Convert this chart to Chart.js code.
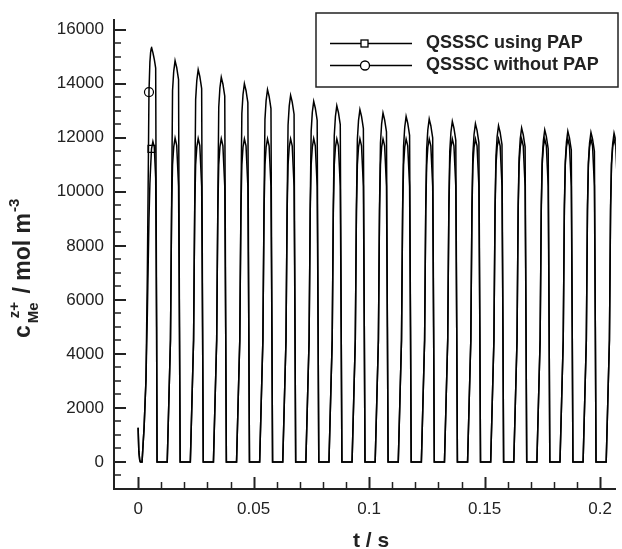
<!DOCTYPE html>
<html>
<head>
<meta charset="utf-8">
<script src="https://cdn.jsdelivr.net/npm/chart.js@4/dist/chart.umd.min.js"></script>
<style>
  html, body { margin: 0; padding: 0; background: #fff; }
  canvas { display: block; }
</style>
</head>
<body>
<canvas id="conc" width="622" height="549"></canvas>
<script>
// concentration pulses, QSSSC with / without PAP

const FONT = '"Liberation Sans", Arial, Helvetica, sans-serif';
const INK = '#222';

// time points (s), one row per pulse
const tSec = [
  0, 0.0003, 0.0007, 0.0010, 0.0017, 0.0026, 0.0034, 0.0040, 0.0044, 0.0047, 0.0051, 0.0054, 0.0058, 0.0064, 0.0070, 0.0076, 0.0080, 0.0082,
  0.0126, 0.0140, 0.0145, 0.0149, 0.0154, 0.0160, 0.0167, 0.0175, 0.0179, 0.0182,
  0.0226, 0.0240, 0.0245, 0.0249, 0.0254, 0.0260, 0.0267, 0.0275, 0.0279, 0.0282,
  0.0326, 0.0340, 0.0345, 0.0349, 0.0354, 0.0360, 0.0367, 0.0375, 0.0379, 0.0382,
  0.0426, 0.0440, 0.0445, 0.0449, 0.0454, 0.0460, 0.0467, 0.0475, 0.0479, 0.0482,
  0.0526, 0.0540, 0.0545, 0.0549, 0.0554, 0.0560, 0.0567, 0.0575, 0.0579, 0.0582,
  0.0626, 0.0640, 0.0645, 0.0649, 0.0654, 0.0660, 0.0667, 0.0675, 0.0679, 0.0682,
  0.0726, 0.0740, 0.0745, 0.0749, 0.0754, 0.0760, 0.0767, 0.0775, 0.0779, 0.0782,
  0.0826, 0.0840, 0.0845, 0.0849, 0.0854, 0.0860, 0.0867, 0.0875, 0.0879, 0.0882,
  0.0926, 0.0940, 0.0945, 0.0949, 0.0954, 0.0960, 0.0967, 0.0975, 0.0979, 0.0982,
  0.1026, 0.1040, 0.1045, 0.1049, 0.1054, 0.1060, 0.1067, 0.1075, 0.1079, 0.1082,
  0.1126, 0.1140, 0.1145, 0.1149, 0.1154, 0.1160, 0.1167, 0.1175, 0.1179, 0.1182,
  0.1226, 0.1240, 0.1245, 0.1249, 0.1254, 0.1260, 0.1267, 0.1275, 0.1279, 0.1282,
  0.1326, 0.1340, 0.1345, 0.1349, 0.1354, 0.1360, 0.1367, 0.1375, 0.1379, 0.1382,
  0.1426, 0.1440, 0.1445, 0.1449, 0.1454, 0.1460, 0.1467, 0.1475, 0.1479, 0.1482,
  0.1526, 0.1540, 0.1545, 0.1549, 0.1554, 0.1560, 0.1567, 0.1575, 0.1579, 0.1582,
  0.1626, 0.1640, 0.1645, 0.1649, 0.1654, 0.1660, 0.1667, 0.1675, 0.1679, 0.1682,
  0.1726, 0.1740, 0.1745, 0.1749, 0.1754, 0.1760, 0.1767, 0.1775, 0.1779, 0.1782,
  0.1826, 0.1840, 0.1845, 0.1849, 0.1854, 0.1860, 0.1867, 0.1875, 0.1879, 0.1882,
  0.1926, 0.1940, 0.1945, 0.1949, 0.1954, 0.1960, 0.1967, 0.1975, 0.1979, 0.1982,
  0.2026, 0.2040, 0.2045, 0.2049, 0.2054, 0.2060, 0.2067, 0.2075, 0.2079, 0.2082
];

// c (mol m^-3), QSSSC using PAP
const cWithPap = [
  1270, 400, 60, 0, 0, 1300, 3040, 5500, 7500, 9000, 10300, 10900, 11590, 11860, 11650, 10500, 5000, 0,
  0, 4500, 9300, 11000, 11650, 11990, 11720, 10200, 5000, 0,
  0, 4500, 9300, 11000, 11650, 11975, 11710, 10200, 5000, 0,
  0, 4500, 9300, 11000, 11650, 11965, 11700, 10200, 5000, 0,
  0, 4500, 9300, 11000, 11650, 11960, 11700, 10200, 5000, 0,
  0, 4500, 9300, 11000, 11650, 11960, 11700, 10200, 5000, 0,
  0, 4500, 9300, 11000, 11650, 11960, 11700, 10200, 5000, 0,
  0, 4500, 9300, 11000, 11650, 11970, 11700, 10200, 5000, 0,
  0, 4500, 9300, 11000, 11650, 11960, 11700, 10200, 5000, 0,
  0, 4500, 9300, 11000, 11650, 11960, 11700, 10200, 5000, 0,
  0, 4500, 9300, 11000, 11650, 11955, 11700, 10200, 5000, 0,
  0, 4500, 9300, 11000, 11650, 11955, 11700, 10200, 5000, 0,
  0, 4500, 9300, 11000, 11650, 11955, 11700, 10200, 5000, 0,
  0, 4500, 9300, 11000, 11650, 11950, 11700, 10200, 5000, 0,
  0, 4500, 9300, 11000, 11650, 11950, 11700, 10200, 5000, 0,
  0, 4500, 9300, 11000, 11650, 11950, 11700, 10200, 5000, 0,
  0, 4500, 9300, 11000, 11650, 11950, 11700, 10200, 5000, 0,
  0, 4500, 9300, 11000, 11650, 11950, 11700, 10200, 5000, 0,
  0, 4500, 9300, 11000, 11650, 11950, 11700, 10200, 5000, 0,
  0, 4500, 9300, 11000, 11650, 11950, 11700, 10200, 5000, 0,
  0, 4500, 9300, 11000, 11650, 11950, 11700, 10200, 5000, 0
];

// c (mol m^-3), QSSSC without PAP
const cNoPap = [
  1270, 400, 60, 0, 0, 1300, 3040, 7000, 10800, 13690, 14800, 15150, 15350, 15150, 14900, 14580, 5000, 0,
  0, 4500, 9500, 13750, 14450, 14850, 14600, 14150, 5000, 0,
  0, 4500, 9500, 13420, 14120, 14520, 14270, 13820, 5000, 0,
  0, 4500, 9500, 13140, 13840, 14240, 13990, 13540, 5000, 0,
  0, 4500, 9500, 12900, 13600, 14000, 13750, 13300, 5000, 0,
  0, 4500, 9500, 12680, 13380, 13780, 13530, 13080, 5000, 0,
  0, 4500, 9500, 12470, 13170, 13570, 13320, 12870, 5000, 0,
  0, 4500, 9500, 12245, 12945, 13345, 13095, 12645, 5000, 0,
  0, 4500, 9500, 12085, 12785, 13185, 12935, 12485, 5000, 0,
  0, 4500, 9500, 11940, 12640, 13040, 12790, 12340, 5000, 0,
  0, 4500, 9500, 11815, 12515, 12915, 12665, 12215, 5000, 0,
  0, 4500, 9500, 11690, 12390, 12790, 12540, 12090, 5000, 0,
  0, 4500, 9500, 11595, 12295, 12695, 12445, 11995, 5000, 0,
  0, 4500, 9500, 11505, 12205, 12605, 12355, 11905, 5000, 0,
  0, 4500, 9500, 11420, 12120, 12520, 12270, 11820, 5000, 0,
  0, 4500, 9500, 11345, 12045, 12445, 12195, 11745, 5000, 0,
  0, 4500, 9500, 11260, 11960, 12360, 12110, 11660, 5000, 0,
  0, 4500, 9500, 11190, 11890, 12290, 12040, 11590, 5000, 0,
  0, 4500, 9500, 11140, 11840, 12240, 11990, 11540, 5000, 0,
  0, 4500, 9500, 11100, 11800, 12200, 11950, 11500, 5000, 0,
  0, 4500, 9500, 11070, 11770, 12170, 11920, 11470, 5000, 0
];

const seriesNames = ['QSSSC using PAP', 'QSSSC without PAP'];
const markerTimes = [0.0058, 0.0047];   // where the symbol sits on each curve

const xMajor = [0, 0.05, 0.1, 0.15, 0.2];
const xTickLabels = ['0', '0.05', '0.1', '0.15', '0.2'];
const xMinor = [0.01, 0.02, 0.03, 0.04, 0.06, 0.07, 0.08, 0.09, 0.11, 0.12, 0.13, 0.14, 0.16, 0.17, 0.18, 0.19];
const yMajor = [0, 2000, 4000, 6000, 8000, 10000, 12000, 14000, 16000];
const yMinor = [-500, 500, 1000, 1500, 2500, 3000, 3500, 4500, 5000, 5500, 6500, 7000, 7500, 8500, 9000, 9500,
  10500, 11000, 11500, 12500, 13000, 13500, 14500, 15000, 15500];

function pointsOf(values) {
  return tSec.map((t, i) => ({ x: t, y: values[i] }));
}

function markerRadius(which, r) {
  const idx = tSec.indexOf(markerTimes[which]);
  return c => (c.dataIndex === idx ? r : 0);
}

// ticks pointing into the plot
const innerTicks = {
  id: 'innerTicks',
  afterDraw(chart) {
    const { ctx, chartArea: a, scales: { x, y } } = chart;
    ctx.save();
    ctx.strokeStyle = INK;
    const draw = (vals, len, w, horiz) => {
      ctx.lineWidth = w;
      ctx.beginPath();
      vals.forEach(v => {
        if (horiz) {
          const p = Math.round(x.getPixelForValue(v)) + 0.5;
          ctx.moveTo(p, a.bottom); ctx.lineTo(p, a.bottom - len);
        } else {
          const p = Math.round(y.getPixelForValue(v));
          ctx.moveTo(a.left, p); ctx.lineTo(a.left + len, p);
        }
      });
      ctx.stroke();
    };
    draw(xMajor, 12, 2, true);
    draw(xMinor, 7, 1.5, true);
    draw(yMajor, 12, 2, false);
    draw(yMinor, 7, 1.5, false);
    ctx.restore();
  }
};

// axis titles: c_{Me^{z+}} / mol m^{-3} (rotated) and t / s
const axisTitles = {
  id: 'axisTitles',
  afterDraw(chart) {
    const ctx = chart.ctx;
    const big = 'bold 23px ' + FONT, small = 'bold 15px ' + FONT;
    ctx.save();
    ctx.fillStyle = INK;
    ctx.textBaseline = 'alphabetic';
    ctx.font = 'bold 21px ' + FONT;
    ctx.textAlign = 'center';
    ctx.fillText('t / s', 371, 547);
    ctx.textAlign = 'left';
    ctx.translate(30, 338);
    ctx.rotate(-Math.PI / 2);
    let x = 0;
    ctx.font = big; ctx.fillText('c', x, 0); x += ctx.measureText('c').width + 2;
    ctx.font = small;
    ctx.fillText('Me', x, 8);
    ctx.fillText('z+', x + 5, -11);
    x += Math.max(ctx.measureText('Me').width, ctx.measureText('z+').width + 5) + 2;
    ctx.font = big; ctx.fillText(' / mol m', x, 0); x += ctx.measureText(' / mol m').width + 1;
    ctx.font = small; ctx.fillText('-3', x, -11);
    ctx.restore();
  }
};

// framed legend, top right
const boxLegend = {
  id: 'boxLegend',
  afterDraw(chart) {
    const ctx = chart.ctx;
    ctx.save();
    ctx.fillStyle = '#fff';
    ctx.fillRect(316, 13, 302, 74);
    ctx.strokeStyle = INK;
    ctx.lineWidth = 1.5;
    ctx.strokeRect(316, 13, 302, 74);
    const rows = [43.5, 65.5];
    chart.data.datasets.forEach((ds, i) => {
      const yy = rows[i];
      ctx.lineWidth = 1.3;
      ctx.strokeStyle = '#000';
      ctx.beginPath(); ctx.moveTo(330, yy); ctx.lineTo(412, yy); ctx.stroke();
      if (ds.pointStyle === 'rect') {
        ctx.fillStyle = '#fff'; ctx.fillRect(361, yy - 3.5, 7, 7);
        ctx.strokeRect(361, yy - 3.5, 7, 7);
      } else {
        ctx.beginPath(); ctx.arc(365, yy, 4.5, 0, Math.PI * 2);
        ctx.fillStyle = '#fff'; ctx.fill(); ctx.stroke();
      }
      ctx.fillStyle = INK;
      ctx.font = 'bold 18px ' + FONT;
      ctx.textBaseline = 'middle';
      ctx.fillText(ds.label, 426, yy);
    });
    ctx.restore();
  }
};

const ctx = document.getElementById('conc').getContext('2d');
const chart = new Chart(ctx, {
  type: 'line',
  data: {
    datasets: [
      {
        label: seriesNames[0],
        data: pointsOf(cWithPap),
        borderColor: '#000', borderWidth: 1.5, tension: 0.0001,
        pointStyle: 'rect', pointRadius: markerRadius(0, 5),
        pointBorderColor: '#000', pointBorderWidth: 1.2, pointBackgroundColor: 'rgba(0,0,0,0)'
      },
      {
        label: seriesNames[1],
        data: pointsOf(cNoPap),
        borderColor: '#000', borderWidth: 1.5, tension: 0.0001,
        pointStyle: 'circle', pointRadius: markerRadius(1, 4.5),
        pointBorderColor: '#000', pointBorderWidth: 1.2, pointBackgroundColor: 'rgba(0,0,0,0)'
      }
    ]
  },
  options: {
    responsive: false,
    animation: false,
    devicePixelRatio: 1,
    layout: { padding: { top: 20, right: 0, bottom: 0, left: 0 } },
    plugins: { legend: { display: false }, tooltip: { enabled: false } },
    scales: {
      x: {
        type: 'linear',
        min: -0.01044,
        max: 0.2068,
        afterFit: s => { s.height = 60; },
        afterBuildTicks: s => { s.ticks = xMajor.map(v => ({ value: v })); },
        grid: { display: false, drawTicks: false },
        border: { display: true, color: INK, width: 2 },
        ticks: {
          autoSkip: false, maxRotation: 0, padding: 10,
          color: INK, font: { family: FONT, size: 17 },
          callback: (v, i) => xTickLabels[i]
        }
      },
      y: {
        min: -1000,
        max: 16350,
        afterFit: s => { s.width = 114; },
        afterBuildTicks: s => { s.ticks = yMajor.map(v => ({ value: v })); },
        grid: { display: false, drawTicks: false },
        border: { display: true, color: INK, width: 2 },
        ticks: {
          autoSkip: false, padding: 10,
          color: INK, font: { family: FONT, size: 17 },
          callback: v => String(v)
        }
      }
    }
  },
  plugins: [innerTicks, axisTitles, boxLegend]
});
</script>
</body>
</html>
